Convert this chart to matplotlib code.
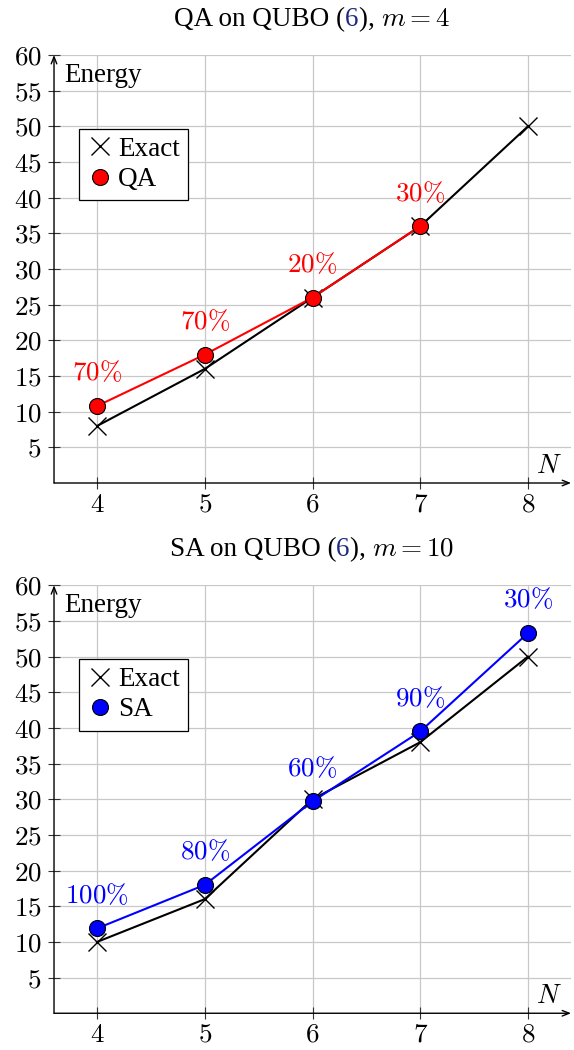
import matplotlib
matplotlib.use('Agg')
import matplotlib.pyplot as plt
from matplotlib.lines import Line2D

plt.rcParams['font.family'] = ['Liberation Serif', 'DejaVu Serif']
plt.rcParams['mathtext.fontset'] = 'cm'

N = [4, 5, 6, 7, 8]

# QA panel (m = 4)
qa_exact = [8, 16, 26, 36, 50]
qa_N = [4, 5, 6, 7]
qa_energy = [10.8, 18, 26, 36]
qa_pct = ['70', '70', '20', '30']

# SA panel (m = 10)
sa_exact = [10, 16, 30, 38, 50]
sa_energy = [11.9, 18, 29.7, 39.5, 53.3]
sa_pct = ['100', '80', '60', '90', '30']

yticks = list(range(5, 65, 5))
FS = 19.5

fig = plt.figure(figsize=(5.74, 10.5), dpi=100)
ax1 = fig.add_axes([0.0941, 0.5400, 0.9007, 0.4076])
ax2 = fig.add_axes([0.0941, 0.0350, 0.9007, 0.4076])


def style(ax):
    ax.set_xlim(3.6, 8.4)
    ax.set_ylim(0, 60)
    ax.set_xticks(N)
    ax.set_xticklabels([f'${v}$' for v in N], fontsize=FS)
    ax.set_yticks(yticks)
    ax.set_yticklabels([f'${v}$' for v in yticks], fontsize=FS)
    ax.grid(True, color='#c8c8c8', lw=0.9)
    ax.set_axisbelow(True)
    for s in ax.spines.values():
        s.set_visible(False)
    ax.tick_params(direction='inout', length=8, width=0.8, color='#333333', pad=5)
    ax.tick_params(axis='x', pad=3)
    ax.annotate('', xy=(1.0, 0), xytext=(0, 0), xycoords='axes fraction',
                arrowprops=dict(arrowstyle='->,head_length=0.5,head_width=0.2', lw=1.0, color='k',
                                shrinkA=0, shrinkB=0))
    ax.annotate('', xy=(0, 1.0), xytext=(0, 0), xycoords='axes fraction',
                arrowprops=dict(arrowstyle='->,head_length=0.5,head_width=0.2', lw=1.0, color='k',
                                shrinkA=0, shrinkB=0))
    ax.text(0.019, 0.937, 'Energy', transform=ax.transAxes, fontsize=FS, va='baseline', ha='left')
    ax.text(0.957, 0.024, '$N$', transform=ax.transAxes, fontsize=FS, va='baseline', ha='center')


def panel(ax, exact, xs, ys, pcts, color, name):
    style(ax)
    ax.plot(N, exact, color='k', lw=1.5, marker='x', ms=13, mew=1.0, zorder=3)
    ax.plot(xs, ys, color=color, lw=1.5, marker='o', ms=11.5, mfc=color, mec='k', mew=0.8, zorder=4)
    for x, y, p in zip(xs, ys, pcts):
        ax.annotate(f'${p}\\%$', (x, y), xytext=(0, 14), textcoords='offset points',
                    ha='center', va='bottom', color=color, fontsize=FS)
    handles = [Line2D([], [], ls='none', marker='x', color='k', ms=13, mew=1.0),
               Line2D([], [], ls='none', marker='o', mfc=color, mec='k', mew=0.8, ms=11.5)]
    leg = ax.legend(handles, ['Exact', name], loc='upper left', bbox_to_anchor=(0.048, 0.828),
                    borderaxespad=0, fancybox=False, edgecolor='k', framealpha=1,
                    fontsize=FS, handlelength=1.0, handletextpad=0.15, borderpad=0.3,
                    labelspacing=0.2)
    leg.get_frame().set_linewidth(0.9)


panel(ax1, qa_exact, qa_N, qa_energy, qa_pct, '#ff0000', 'QA')
panel(ax2, sa_exact, N, sa_energy, sa_pct, '#0000ff', 'SA')


def title(parts, y_px, cx_px):
    W, H = 574, 1050
    texts = []
    for s, c in parts:
        texts.append(fig.text(0, 1 - y_px / H, s, color=c, fontsize=FS, va='baseline', ha='left'))
    fig.canvas.draw()
    r = fig.canvas.get_renderer()
    widths = [t.get_window_extent(r).width for t in texts]
    x = cx_px - sum(widths) / 2
    for t, w in zip(texts, widths):
        t.set_x(x / W)
        x += w


title([('QA on QUBO (', 'k'), ('6', '#1f2a80'), ('), ', 'k'), ('$m = 4$', 'k')], 26, 312)
title([('SA on QUBO (', 'k'), ('6', '#1f2a80'), ('), ', 'k'), ('$m = 10$', 'k')], 556, 312)

fig.savefig('out.png', dpi=100)
